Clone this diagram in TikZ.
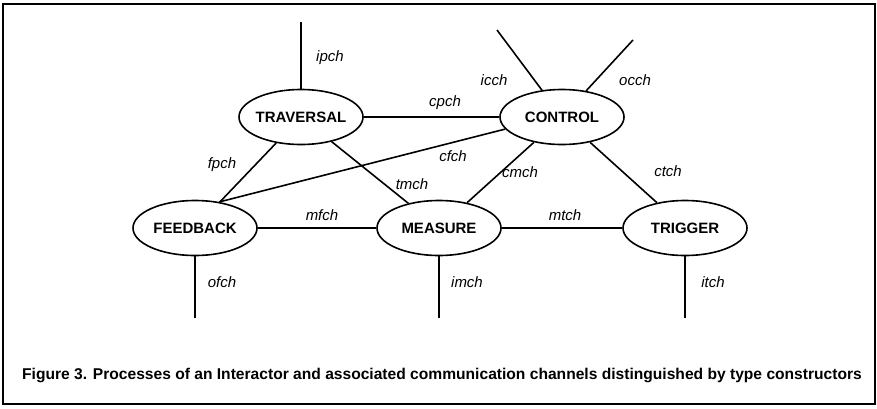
\documentclass[tikz,border=0pt]{standalone}
\usepackage{fontspec}
\setmainfont{Liberation Sans}
\usetikzlibrary{shapes.geometric}
\begin{document}
\begin{tikzpicture}[x=1pt,y=-1pt,
  proc/.style={ellipse,draw,line width=1.6pt,minimum width=124pt,minimum height=55pt,inner sep=0pt,font=\bfseries\fontsize{15}{17}\selectfont},
  ch/.style={line width=1.6pt},
  lab/.style={font=\itshape\fontsize{15}{17}\selectfont,inner sep=0pt}]
\useasboundingbox (0,0) rectangle (877,408);
\draw[line width=1.6pt] (3,4) rectangle (875,404);
% processes
\node[proc] (trav) at (301,117) {\makebox[0pt]{TRAVERSAL}};
\node[proc] (ctrl) at (562,117) {\makebox[0pt]{CONTROL}};
\node[proc] (feed) at (195,228) {\makebox[0pt]{FEEDBACK}};
\node[proc] (meas) at (439,228) {\makebox[0pt]{MEASURE}};
\node[proc] (trig) at (685,228) {\makebox[0pt]{TRIGGER}};
% free channel ends
\coordinate (ipchE) at (301,22);
\coordinate (icchE) at (497,30);
\coordinate (occhE) at (633,40);
\coordinate (ofchE) at (195,318);
\coordinate (imchE) at (439,318);
\coordinate (itchE) at (685,318);
% channels
\draw[ch] (ipchE) -- (trav);
\draw[ch] (icchE) -- (ctrl);
\draw[ch] (occhE) -- (ctrl);
\draw[ch] (trav) -- (ctrl);
\draw[ch] (ctrl.192) -- (feed.47);
\draw[ch] (trav) -- (feed);
\draw[ch] (trav) -- (meas);
\draw[ch] (ctrl) -- (meas);
\draw[ch] (ctrl) -- (trig);
\draw[ch] (feed) -- (meas);
\draw[ch] (meas) -- (trig);
\draw[ch] (feed) -- (ofchE);
\draw[ch] (meas) -- (imchE);
\draw[ch] (trig) -- (itchE);
% labels
\node[lab] (l1) at (330,58) {ipch};
\node[lab] (l2) at (494,80) {icch};
\node[lab] (l3) at (635,80) {occh};
\node[lab] (l4) at (445,103) {cpch};
\node[lab] (l5) at (453,156) {cfch};
\node[lab] (l6) at (222,165) {fpch};
\node[lab] (l7) at (412,184) {tmch};
\node[lab] (l8) at (520,172) {cmch};
\node[lab] (l9) at (668,171) {ctch};
\node[lab] (l10) at (322,215) {mfch};
\node[lab] (l11) at (565,215) {mtch};
\node[lab] (l12) at (222,282) {ofch};
\node[lab] (l13) at (467,282) {imch};
\node[lab] (l14) at (713,282) {itch};
% caption
\node (cap) at (442,375) {\bfseries\fontsize{15.6}{18}\selectfont Figure 3. Processes of an Interactor and associated communication channels distinguished by type constructors};
\end{tikzpicture}
\end{document}
